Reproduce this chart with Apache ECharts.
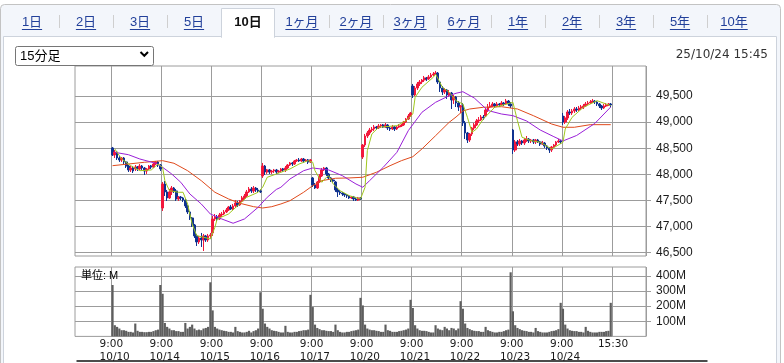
<!DOCTYPE html>
<html><head><meta charset="utf-8">
<script src="https://cdn.jsdelivr.net/npm/echarts@6/dist/echarts.min.js"></script>
<style>html,body{margin:0;padding:0;background:#fff;}#c{width:784px;height:363px;}</style>
</head><body><div id="c"></div>
<script>
// ---------- data ----------
const tabs = ['1日','2日','3日','5日','10日','1ヶ月','2ヶ月','3ヶ月','6ヶ月','1年','2年','3年','5年','10年'];
const activeTab = '10日';
const selectLabel = '15分足';
const stampText = '25/10/24 15:45';
const unitText = '単位: M';
const days = ['10/10','10/14','10/15','10/16','10/17','10/20','10/21','10/22','10/23','10/24'];
const sessionTimes = ['9:00','9:15','9:30','9:45','10:00','10:15','10:30','10:45','11:00','11:15',
  '12:30','12:45','13:00','13:15','13:30','13:45','14:00','14:15','14:30','14:45','15:00','15:15'];
const closeLabel = '15:30';
const priceTicks = [46500,47000,47500,48000,48500,49000,49500];
const volTicks = [100,200,300,400];

// [open, close, low, high] per 15-minute bar
const d1010 = [[48505,48371,48352,48524],[48371,48428,48313,48466],[48428,48313,48275,48447],[48313,48275,48237,48352],[48275,48313,48237,48332],[48313,48237,48198,48332],[48237,48160,48122,48256],[48160,48084,48045,48179],[48084,48122,48045,48160],[48122,48064,48026,48160],[48103,48141,48064,48179],[48141,48103,48064,48160],[48103,48160,48084,48198],[48160,48122,48084,48179],[48122,48064,47988,48141],[48064,48103,48007,48122],[48103,48160,48084,48179],[48160,48141,48103,48179],[48141,48198,48122,48218],[48198,48237,48179,48256],[48237,48179,48141,48256],[48179,48103,48064,48198]];
const d1014 = [[47356,47816,47299,47854],[47816,47663,47586,47873],[47663,47548,47490,47701],[47548,47663,47529,47720],[47663,47739,47605,47777],[47739,47682,47643,47758],[47682,47529,47490,47720],[47529,47567,47490,47586],[47567,47548,47509,47586],[47548,47509,47471,47567],[47509,47395,47356,47529],[47395,47280,47241,47414],[47280,47165,47127,47299],[47165,47031,46993,47184],[47031,46821,46782,47050],[46821,46706,46629,46859],[46706,46782,46667,46821],[46782,46744,46610,46878],[46744,46821,46533,46859],[46821,46744,46706,46840],[46744,46821,46706,46859],[46821,46840,46763,46878]];
const d1015 = [[46878,47146,46821,47203],[47146,47184,47107,47241],[47184,47146,47107,47222],[47146,47222,47127,47261],[47222,47241,47184,47280],[47241,47280,47222,47318],[47280,47318,47261,47356],[47318,47375,47299,47395],[47375,47337,47318,47414],[47337,47395,47318,47433],[47395,47452,47356,47509],[47452,47414,47375,47490],[47414,47490,47395,47509],[47490,47548,47471,47586],[47548,47586,47529,47624],[47586,47663,47567,47701],[47663,47720,47643,47758],[47720,47682,47643,47758],[47682,47739,47643,47777],[47739,47701,47663,47758],[47701,47682,47643,47739],[47682,47663,47643,47720]];
const d1016 = [[47969,48160,47931,48218],[48160,48045,47988,48179],[48045,48084,48007,48103],[48084,48045,48007,48103],[48045,48064,48007,48084],[48064,48084,48026,48103],[48084,48045,48007,48103],[48045,48064,48026,48084],[48064,48103,48045,48122],[48103,48084,48045,48122],[48084,48122,48045,48160],[48122,48179,48103,48198],[48179,48218,48160,48237],[48218,48198,48160,48237],[48198,48256,48179,48275],[48256,48275,48237,48294],[48275,48256,48237,48313],[48256,48294,48237,48313],[48294,48256,48218,48313],[48256,48275,48237,48294],[48275,48237,48198,48294],[48237,48275,48218,48294]];
const d1017 = [[47931,47796,47758,47950],[47796,47739,47720,47835],[47739,47854,47720,47873],[47854,47969,47835,48007],[47969,48084,47950,48122],[48084,48122,48064,48141],[48122,48007,47969,48141],[48007,47931,47892,48026],[47931,47892,47854,47950],[47892,47873,47835,47911],[47854,47701,47663,47873],[47701,47663,47567,47739],[47663,47643,47605,47701],[47643,47624,47586,47663],[47624,47605,47567,47643],[47605,47586,47548,47624],[47586,47548,47529,47605],[47548,47567,47529,47586],[47567,47529,47490,47586],[47529,47509,47490,47567],[47509,47548,47490,47567],[47548,47529,47509,47567]];
const d1020 = [[48332,48562,48294,48581],[48562,48734,48524,48773],[48734,48792,48696,48830],[48792,48849,48754,48888],[48849,48868,48811,48907],[48868,48907,48830,48945],[48907,48888,48849,48926],[48888,48926,48868,48964],[48926,48945,48888,48964],[48945,48907,48888,48964],[48907,48945,48888,48983],[48945,48888,48849,48964],[48888,48868,48830,48907],[48868,48907,48849,48945],[48907,48868,48830,48926],[48868,48907,48849,48926],[48907,48926,48888,48964],[48926,48945,48907,48964],[48945,49002,48926,49022],[49002,49060,48983,49079],[49060,49117,49041,49155],[49117,49175,49098,49194]];
const d1021 = [[49691,49519,49462,49730],[49519,49653,49500,49691],[49653,49730,49615,49768],[49730,49768,49691,49806],[49768,49806,49730,49825],[49806,49845,49768,49883],[49845,49825,49787,49864],[49825,49864,49806,49902],[49864,49902,49845,49940],[49902,49921,49883,49959],[49921,49940,49902,49979],[49940,49768,49730,49959],[49768,49653,49577,49787],[49653,49577,49519,49691],[49577,49615,49538,49653],[49615,49519,49443,49634],[49519,49557,49481,49615],[49557,49423,49251,49577],[49423,49481,49347,49519],[49481,49366,49289,49500],[49366,49289,49213,49404],[49289,49309,49175,49328]];
const d1022 = [[49328,48983,48926,49366],[48983,48792,48677,49022],[48792,48658,48600,48811],[48658,48773,48620,48792],[48773,48888,48734,48907],[48888,48945,48849,48983],[48945,49022,48926,49060],[49022,49041,48983,49098],[49041,49098,49022,49136],[49098,49079,49041,49136],[49117,49232,49098,49270],[49232,49289,49194,49347],[49289,49309,49270,49385],[49309,49347,49289,49385],[49347,49309,49270,49366],[49309,49347,49289,49385],[49347,49328,49289,49366],[49328,49366,49309,49404],[49366,49347,49309,49385],[49347,49404,49328,49443],[49404,49347,49309,49423],[49347,49309,49270,49385]];
const d1023 = [[48849,48466,48390,48868],[48466,48620,48428,48658],[48620,48581,48543,48658],[48581,48639,48543,48677],[48639,48600,48562,48658],[48600,48658,48562,48696],[48658,48677,48620,48734],[48677,48639,48600,48696],[48639,48658,48600,48677],[48658,48620,48581,48677],[48620,48658,48581,48677],[48658,48620,48600,48677],[48620,48581,48543,48639],[48581,48600,48562,48639],[48600,48543,48505,48620],[48543,48505,48466,48562],[48505,48466,48409,48524],[48466,48524,48428,48543],[48524,48562,48505,48581],[48562,48620,48543,48639],[48620,48639,48600,48677],[48639,48620,48581,48658]];
const d1024 = [[49117,49002,48945,49175],[49002,49079,48964,49117],[49079,49194,49041,49232],[49194,49175,49136,49251],[49175,49213,49136,49251],[49213,49251,49175,49289],[49251,49232,49194,49289],[49232,49270,49213,49309],[49270,49289,49232,49328],[49289,49309,49251,49347],[49309,49347,49289,49385],[49347,49366,49328,49404],[49366,49385,49347,49423],[49385,49404,49366,49443],[49404,49385,49347,49423],[49385,49347,49309,49404],[49347,49309,49270,49366],[49309,49270,49232,49328],[49270,49309,49251,49347],[49309,49328,49289,49366],[49328,49347,49309,49366],[49347,49328,49289,49366]];

// volume (M) per bar
const v1010 = [340,74,63,52,41,41,37,30,30,26,85,37,30,30,28,28,30,30,35,41,45,340];
const v1014 = [282,89,63,52,41,41,35,35,30,30,89,52,63,78,52,41,45,41,52,56,63,358];
const v1015 = [172,63,52,45,41,37,35,30,30,26,63,35,30,26,26,30,37,26,35,41,52,292];
const v1016 = [183,85,63,52,41,37,35,30,26,26,70,30,26,26,30,30,35,37,41,41,45,275];
const v1017 = [194,78,56,48,41,41,37,35,35,30,78,41,30,26,26,30,30,35,38,41,45,255];
const v1020 = [205,78,52,45,41,41,37,35,30,30,78,41,37,30,30,30,35,37,41,45,52,242];
const v1021 = [188,74,52,41,37,37,35,30,26,26,74,52,45,41,63,52,41,56,52,41,52,233];
const v1022 = [183,85,56,48,41,37,35,35,30,30,63,41,35,30,26,26,30,30,35,41,45,424];
const v1023 = [166,74,56,48,41,37,35,30,30,26,56,35,30,26,26,26,30,35,37,41,48,222];
const v1024 = [183,78,52,41,37,35,35,30,30,26,63,37,30,26,26,26,30,30,30,35,37,222];

// moving averages read at bar positions (bar index from 10/10 9:00)
const maShortIdx = [1,4,8,12,17,20,22,23,25,29,31,33,35,37,40,43,45,46,51,55,59,64,66,68,72,78,82,86,88,89,92,94,95,97,100,104,109,111,112,114,117,125,129,132,133,136,141,142,145,148,151,154,156,158,160,163,168,176,178,180,184,188,193,198,199,202,207,213,219];
const maShortVal = [48486,48294,48166,48070,48084,48198,48135,47879,47688,47657,47657,47433,47050,46826,46796,46763,46987,47146,47241,47400,47561,47657,47753,47944,48007,48103,48198,48262,48231,48070,47848,47944,47975,47816,47688,47592,47529,47753,48453,48773,48901,48932,49027,49155,49475,49667,49858,49921,49667,49571,49410,49347,49092,48805,48868,49060,49284,49379,49027,48710,48644,48614,48486,48614,48868,49092,49284,49410,49314];
const maMidIdx = [1,7,12,19,22,26,30,34,39,43,48,53,58,64,68,72,74,78,84,88,95,101,107,110,113,119,125,130,136,142,148,151,154,159,165,171,176,182,188,194,198,204,212,219];
const maMidVal = [48422,48376,48294,48212,48135,48007,47848,47624,47433,47241,47146,47064,47146,47369,47561,47711,47753,47911,48070,48122,48084,47975,47816,47753,47879,48135,48422,48836,49188,49379,49506,49552,49582,49462,49222,49155,49123,49022,48849,48721,48639,48744,48974,49289];
const maLongIdx = [0,7,14,22,27,33,39,45,51,56,62,66,70,74,78,84,88,92,98,104,110,116,122,127,132,136,142,148,151,154,157,163,171,178,185,193,198,203,210,219];
const maLongVal = [48166,48198,48231,48262,48212,48070,47879,47657,47529,47446,47381,47356,47381,47433,47496,47657,47783,47879,47925,47931,47944,48040,48166,48262,48338,48486,48740,48997,49098,49213,49251,49284,49295,49251,49123,48964,48901,48901,48951,48951];

// ---------- build ----------
const LEAD = 16, TAIL = 15;
const dayBars = [d1010,d1014,d1015,d1016,d1017,d1020,d1021,d1022,d1023,d1024];
const dayVols = [v1010,v1014,v1015,v1016,v1017,v1020,v1021,v1022,v1023,v1024];
const cats = [], candle = [], vol = [], labelMap = {};
for (let i = 0; i < LEAD; i++) { cats.push('lead' + i); candle.push(['-','-','-','-']); vol.push('-'); }
days.forEach((d, k) => {
  sessionTimes.forEach((t, j) => {
    const idx = cats.length;
    cats.push(d + ' ' + t);
    if (j === 0) labelMap[idx] = [t, d];
    candle.push(dayBars[k][j]);
    vol.push(dayVols[k][j]);
  });
});
labelMap[cats.length] = [closeLabel];
for (let i = 0; i < TAIL; i++) { cats.push(i === 0 ? closeLabel : 'tail' + i); candle.push(['-','-','-','-']); vol.push('-'); }
const isMark = (idx) => labelMap[idx] !== undefined;
const pairs = (ix, vs) => ix.map((x, i) => [x + LEAD, vs[i]]);

const GRID = '#9c9c9c';
const UP = '#f2183c', DOWN = '#0f3290';
const txt = '#1a1a1a';

const chart = echarts.init(document.getElementById('c'), null, {renderer: 'canvas'});

// ---------- page decoration ----------
const tabFont = '13px "Liberation Sans", "Noto Sans CJK JP", sans-serif';
const tabW = s => { let w = 0; for (const ch of s) w += /[0-9]/.test(ch) ? 7.23 : 13; return w; };
const gfx = [];
gfx.push({type:'rect', z:-20, shape:{x:0.5, y:4.5, width:780, height:380, r:[4,4,0,0]}, style:{fill:'#f3f6fb', stroke:'#c3c3c3', lineWidth:1}});
gfx.push({type:'rect', z:-19, shape:{x:3.5, y:36.5, width:773, height:340}, style:{fill:'#fff', stroke:'#cdd3dc', lineWidth:1}});
gfx.push({type:'rect', z:-18, shape:{x:221.5, y:8.5, width:53, height:29}, style:{fill:'#fff', stroke:'#cdd3dc', lineWidth:1}});
gfx.push({type:'rect', z:-17, shape:{x:222, y:35, width:52, height:3}, style:{fill:'#fff'}});
tabs.forEach((t, k) => {
  const cx = 32 + 54 * k;
  const active = t === activeTab;
  gfx.push({type:'text', z:5, style:{text:t, x:cx, y:22.5, align:'center', verticalAlign:'middle',
    font:(active ? 'bold ' : '') + tabFont, fill: active ? '#111' : '#22409a'}});
  if (!active) {
    const w = tabW(t);
    gfx.push({type:'line', z:5, shape:{x1:cx - w/2, y1:29.5, x2:cx + w/2, y2:29.5}, style:{stroke:'#22409a', lineWidth:1}});
  }
  const sx = 59 + 54 * k;
  if (k < 13 && k !== 3 && k !== 4) {
    gfx.push({type:'line', z:5, shape:{x1:sx + 0.5, y1:15, x2:sx + 0.5, y2:28}, style:{stroke:'#cfcfcf', lineWidth:1}});
  }
});
gfx.push({type:'rect', z:5, shape:{x:15.5, y:46.5, width:138, height:19, r:2}, style:{fill:'#fff', stroke:'#767676', lineWidth:1}});
gfx.push({type:'text', z:6, style:{text:selectLabel, x:20, y:56.5, verticalAlign:'middle', font:'13px "Liberation Sans", "Noto Sans CJK JP", sans-serif', fill:'#000'}});
gfx.push({type:'polyline', z:6, shape:{points:[[140.5,52],[144.3,55.8],[148,52]]}, style:{stroke:'#000', lineWidth:2, fill:null}});
gfx.push({type:'text', z:6, style:{text:stampText, x:768, y:55, align:'right', verticalAlign:'middle', font:'12px "DejaVu Sans", sans-serif', fill:'#333'}});
gfx.push({type:'text', z:50, style:{text:unitText, x:81, y:275.5, verticalAlign:'middle', font:'11px "Liberation Sans", "Noto Sans CJK JP", sans-serif', fill:'#000'}});
gfx.push({type:'line', z:6, shape:{x1:76.5, y1:361, x2:707.5, y2:361}, style:{stroke:'#111', lineWidth:1.5}});

const catAxisBase = {
  type:'category', data:cats, boundaryGap:true,
  axisLine:{show:false}, axisTick:{show:false},
  splitLine:{show:true, interval:(i) => isMark(i), lineStyle:{color:GRID, width:1}}
};

chart.setOption({
  animation:false,
  backgroundColor:'#fff',
  graphic:{elements:gfx},
  grid:[
    {left:75, right:138, top:66, bottom:107, show:true, borderColor:GRID, borderWidth:1, backgroundColor:'#fff'},
    {left:75, right:138, top:267, bottom:26.5, show:true, borderColor:GRID, borderWidth:1, backgroundColor:'#fff'}
  ],
  xAxis:[
    Object.assign({}, catAxisBase, {gridIndex:0, axisLabel:{show:false}}),
    Object.assign({}, catAxisBase, {gridIndex:1, axisLabel:{
      show:true, interval:(i) => isMark(i), margin:1,
      formatter:(v, i) => { const m = labelMap[i]; if (!m) return ''; return m.length === 1 ? '{c|' + m[0] + '}' : '{a|' + m[0] + '}\n{a|' + m[1] + '}'; },
      rich:{
        a:{width:26, align:'left', fontFamily:'"DejaVu Sans", sans-serif', fontSize:10.5, lineHeight:13.4, color:txt},
        c:{fontFamily:'"DejaVu Sans", sans-serif', fontSize:10.5, lineHeight:13.4, color:txt}
      }
    }})
  ],
  yAxis:[
    {type:'value', gridIndex:0, position:'right', min:46437, max:50074, scale:true,
      axisLine:{show:false},
      axisTick:{show:true, length:5, customValues:priceTicks, lineStyle:{color:GRID}},
      axisLabel:{customValues:priceTicks, margin:10, color:txt, fontFamily:'"Liberation Sans", sans-serif', fontSize:12,
        formatter:(v) => Number(v).toLocaleString('en-US')},
      splitLine:{show:true, lineStyle:{color:GRID, width:1}}},
    {type:'value', gridIndex:1, position:'right', min:0, max:459,
      axisLine:{show:false},
      axisTick:{show:true, length:5, customValues:volTicks, lineStyle:{color:GRID}},
      axisLabel:{customValues:volTicks, margin:10, color:txt, fontFamily:'"Liberation Sans", sans-serif', fontSize:12,
        formatter:(v) => v + 'M'},
      splitLine:{show:true, lineStyle:{color:GRID, width:1}}}
  ],
  series:[
    {type:'candlestick', xAxisIndex:0, yAxisIndex:0, data:candle, barWidth:2.2, z:2,
      itemStyle:{color:UP, color0:DOWN, borderColor:UP, borderColor0:DOWN, borderWidth:1}},
    {type:'line', xAxisIndex:0, yAxisIndex:0, data:pairs(maLongIdx, maLongVal), showSymbol:false, symbol:'none', z:3,
      lineStyle:{color:'#e04a1c', width:1}},
    {type:'line', xAxisIndex:0, yAxisIndex:0, data:pairs(maMidIdx, maMidVal), showSymbol:false, symbol:'none', z:4,
      lineStyle:{color:'#9a1fd8', width:1}},
    {type:'line', xAxisIndex:0, yAxisIndex:0, data:pairs(maShortIdx, maShortVal), showSymbol:false, symbol:'none', z:5,
      lineStyle:{color:'#a0c81e', width:1}},
    {type:'bar', xAxisIndex:1, yAxisIndex:1, data:vol, barCategoryGap:'5%', itemStyle:{color:'#5e5e5e'}}
  ]
});
</script></body></html>
